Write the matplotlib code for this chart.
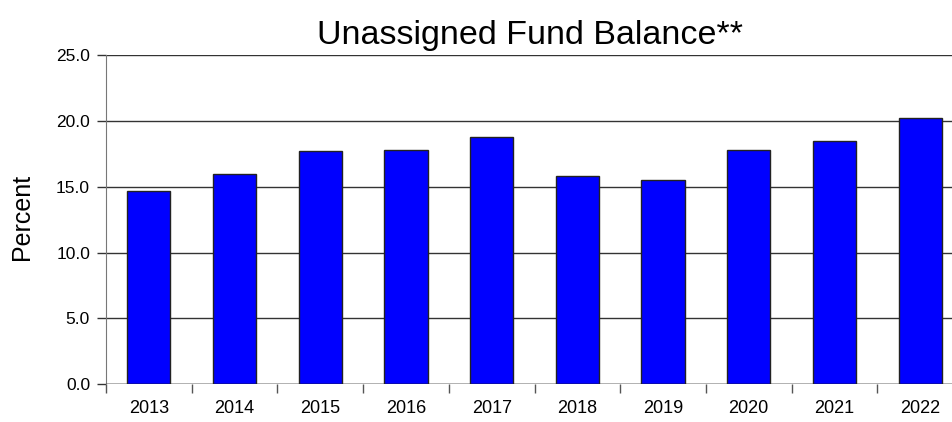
import numpy as np
import matplotlib.pyplot as plt

plt.rcParams['font.family'] = ['Liberation Sans', 'DejaVu Sans']

years = ["2013", "2014", "2015", "2016", "2017", "2018", "2019", "2020", "2021", "2022"]
percent = [14.7, 16.0, 17.7, 17.8, 18.8, 15.8, 15.5, 17.8, 18.5, 20.2]
yticks = [0, 5, 10, 15, 20, 25]

fig = plt.figure(figsize=(9.53, 4.22), dpi=100)
# plot area runs past the right edge in the original
ax = fig.add_axes([106 / 953, 38 / 422, 857 / 953, 328.7 / 422])

x = np.arange(len(years))
ax.bar(x, percent, width=0.505, color="#0000ff", edgecolor="#222222", linewidth=1, zorder=3)

ax.set_xlim(-0.5, len(years) - 0.5)
ax.set_ylim(0, 25)
ax.set_yticks(yticks)
ax.set_yticklabels(["%.1f" % v for v in yticks], fontsize=12.5)
ax.set_xticks(x)
ax.set_xticklabels(years, fontsize=13)
ax.tick_params(axis="x", length=0, pad=11.5)
ax.set_xticks(np.arange(len(years) + 1) - 0.5, minor=True)
ax.tick_params(axis="x", which="minor", length=6.5, width=1, color="#555555")
ax.tick_params(axis="y", length=6.5, width=1, color="#333333", pad=5)

ax.grid(axis="y", color="#333333", linewidth=1, zorder=0)
for s in ["top", "right", "bottom"]:
    ax.spines[s].set_visible(False)
ax.spines["left"].set_color("#777777")
ax.axhline(0, color="#222222", linewidth=1, zorder=4)

fig.text(22 / 953, 205 / 422, "Percent", rotation=90, ha="center", va="center", fontsize=18)
fig.text(530 / 953, (422 - 44) / 422, "Unassigned Fund Balance**", ha="center", va="baseline", fontsize=24.5)

fig.savefig("out.png", dpi=100)
